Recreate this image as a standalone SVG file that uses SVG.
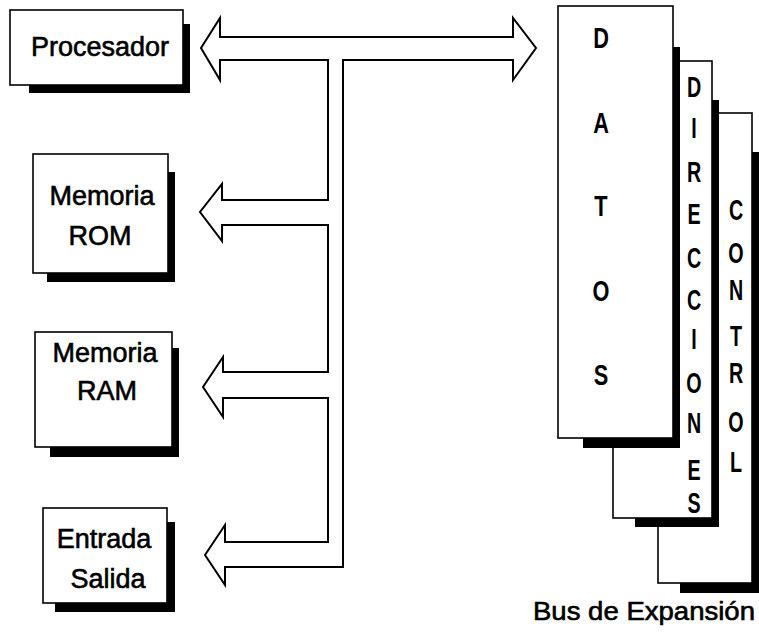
<svg xmlns="http://www.w3.org/2000/svg" width="759" height="640" viewBox="0 0 759 640">
<style>
.box{fill:#fff;stroke:#000;stroke-width:1.6}
.sh{fill:#000}
.lbl{font-family:"Liberation Sans",Arial,sans-serif;font-size:27px;fill:#000;stroke:#000;stroke-width:0.6;text-anchor:middle}
.v{font-family:"Liberation Sans",Arial,sans-serif;font-size:29px;font-weight:bold;fill:#000;text-anchor:middle}
.ln{fill:none;stroke:#000;stroke-width:2;stroke-linejoin:miter}
</style>
<rect width="759" height="640" fill="#fff"/>

<g id="control">
<rect class="sh" x="752" y="152" width="7" height="441"/>
<rect class="sh" x="680" y="583" width="79" height="10"/>
<rect class="box" x="658" y="113" width="94" height="470"/>
<g transform="translate(736,0) scale(0.68,1)">
<text class="v" x="0" y="220">C</text>
<text class="v" x="0" y="263">O</text>
<text class="v" x="0" y="300">N</text>
<text class="v" x="0" y="346">T</text>
<text class="v" x="0" y="383">R</text>
<text class="v" x="0" y="432">O</text>
<text class="v" x="0" y="472">L</text>
</g>
</g>

<g id="direcciones">
<rect class="sh" x="712" y="100" width="7" height="427"/>
<rect class="sh" x="635" y="518" width="84" height="9"/>
<rect class="box" x="613" y="61" width="99" height="457"/>
<g transform="translate(694,0) scale(0.68,1)">
<text class="v" x="0" y="97">D</text>
<text class="v" x="0" y="138">I</text>
<text class="v" x="0" y="182">R</text>
<text class="v" x="0" y="224">E</text>
<text class="v" x="0" y="268">C</text>
<text class="v" x="0" y="310">C</text>
<text class="v" x="0" y="349">I</text>
<text class="v" x="0" y="393">O</text>
<text class="v" x="0" y="433">N</text>
<text class="v" x="0" y="480">E</text>
<text class="v" x="0" y="513">S</text>
</g>
</g>

<g id="datos">
<rect class="sh" x="673" y="47" width="7" height="401"/>
<rect class="sh" x="583" y="438" width="97" height="10"/>
<rect class="box" x="558" y="6" width="115" height="432"/>
<g transform="translate(601,0) scale(0.75,1)">
<text class="v" x="0" y="48">D</text>
<text class="v" x="0" y="133">A</text>
<text class="v" x="0" y="216">T</text>
<text class="v" x="0" y="301">O</text>
<text class="v" x="0" y="385">S</text>
</g>
</g>

<g id="procesador">
<rect class="sh" x="183" y="24" width="7" height="69"/>
<rect class="sh" x="29" y="85" width="161" height="8"/>
<rect class="box" x="10" y="10" width="173" height="75"/>
<text class="lbl" x="100" y="56">Procesador</text>
</g>

<g id="rom">
<rect class="sh" x="168" y="172" width="7" height="110"/>
<rect class="sh" x="47" y="273" width="128" height="9"/>
<rect class="box" x="33" y="154" width="135" height="119"/>
<text class="lbl" x="102" y="205">Memoria</text>
<text class="lbl" x="100" y="245">ROM</text>
</g>

<g id="ram">
<rect class="sh" x="172" y="348" width="7" height="109"/>
<rect class="sh" x="50" y="447" width="129" height="10"/>
<rect class="box" x="35" y="332" width="137" height="115"/>
<text class="lbl" x="105" y="362">Memoria</text>
<text class="lbl" x="107" y="400">RAM</text>
</g>

<g id="entrada">
<rect class="sh" x="167" y="522" width="8" height="90"/>
<rect class="sh" x="55" y="603" width="120" height="9"/>
<rect class="box" x="43" y="508" width="124" height="95"/>
<text class="lbl" x="104" y="548">Entrada</text>
<text class="lbl" x="108" y="588">Salida</text>
</g>

<g id="connectors">
<path class="ln" d="M220,37 H513 V18 L536,48 L513,80 V60 H343 V567 H225 V585 L205,555 L225,525 V542 H328 V398 H223 V417 L203,387 L223,357 V372 H328 V225 H222 V241 L200,212 L222,184 V200 H328 V60 H220 V80 L201,48 L220,18 Z"/>
</g>

<text id="bus-label" x="533" y="620" font-family="'Liberation Sans',Arial,sans-serif" font-size="25" stroke="#000" stroke-width="0.6" textLength="222" lengthAdjust="spacingAndGlyphs">Bus de Expansión</text>
</svg>
